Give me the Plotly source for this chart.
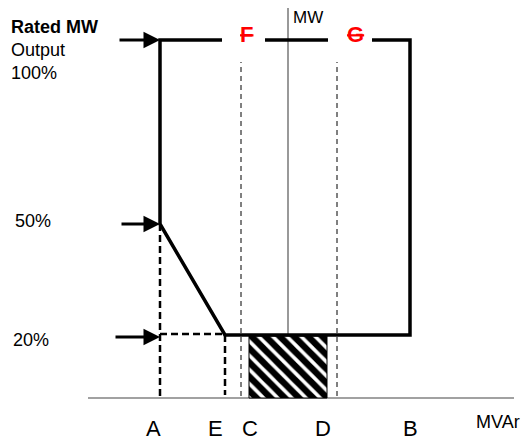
import plotly.graph_objects as go

# ---- diagram data (diagram units: x = MVAr position, y = MW height above MVAr axis) ----
x_labels = ["A", "E", "C", "D", "B"]
x_values = [160, 225, 241, 337, 410]
label_x = [153, 215, 250, 323, 410]
mw_labels = ["100%", "50%", "20%"]
mw_values = [358, 174, 63]
axis_x_range = [88, 514]
mw_axis_x = 288
mw_axis_top = 390
gap_F = [222, 265]
gap_G = [328, 372]
letter_x = [246, 355]
hatch_x = [249, 327]
dash_top = 336
arrow_tail_x = [118, 120, 114]
arrow_y = [358, 174, 61]

A, E, C, D, B = x_values
P100, P50, P20 = mw_values

fig = go.Figure()

# axes
fig.add_trace(go.Scatter(x=axis_x_range, y=[0, 0], mode="lines",
                         line=dict(color="#444", width=1.2)))
fig.add_trace(go.Scatter(x=[mw_axis_x, mw_axis_x], y=[0, mw_axis_top], mode="lines",
                         line=dict(color="#555", width=1.2)))

# hatched region
fig.add_trace(go.Scatter(x=[hatch_x[0], hatch_x[1], hatch_x[1], hatch_x[0], hatch_x[0]],
                         y=[0, 0, P20 - 1, P20 - 1, 0], mode="lines", fill="toself",
                         line=dict(color="black", width=1),
                         fillcolor="white",
                         fillpattern=dict(shape="\\", size=10, solidity=0.65,
                                          fgcolor="black", bgcolor="white",
                                          fgopacity=1, fillmode="replace")))

# thin dashed lines C and D
for xv in [C, D]:
    fig.add_trace(go.Scatter(x=[xv, xv], y=[2, dash_top], mode="lines",
                             line=dict(color="black", width=1, dash="5px,4px")))

# thick dashed lines
fig.add_trace(go.Scatter(x=[A, A, None, A, E, None, E, E],
                         y=[P50, 0, None, P20 + 1, P20 + 1, None, P20, 3],
                         mode="lines",
                         line=dict(color="black", width=2.5, dash="7px,4px")))

# capability boundary
fig.add_trace(go.Scatter(
    x=[gap_F[0], A, A, E, B, B, gap_G[1], None, gap_G[0], gap_F[1]],
    y=[P100, P100, P50, P20, P20, P100, P100, None, P100, P100],
    mode="lines", line=dict(color="black", width=3.5)))

annotations = []
# arrows
for tx, ty in zip(arrow_tail_x, arrow_y):
    annotations.append(dict(x=A, y=ty, ax=tx, ay=ty, xref="x", yref="y",
                            axref="x", ayref="y", showarrow=True, arrowhead=2,
                            arrowsize=1.1, arrowwidth=3, arrowcolor="black",
                            standoff=0, startstandoff=0, text=""))

font = dict(family="Liberation Sans, Arial, sans-serif", color="black")
# left labels
annotations.append(dict(x=9, y=371, text="<b>Rated MW</b>", showarrow=False,
                        xanchor="left", yanchor="middle", font=dict(size=18, **font)))
annotations.append(dict(x=9, y=348, text="Output", showarrow=False,
                        xanchor="left", yanchor="middle", font=dict(size=18, **font)))
annotations.append(dict(x=9, y=325, text=mw_labels[0], showarrow=False,
                        xanchor="left", yanchor="middle", font=dict(size=18, **font)))
annotations.append(dict(x=13, y=177, text=mw_labels[1], showarrow=False,
                        xanchor="left", yanchor="middle", font=dict(size=18, **font)))
annotations.append(dict(x=11, y=58, text=mw_labels[2], showarrow=False,
                        xanchor="left", yanchor="middle", font=dict(size=18, **font)))

# bottom labels
for lab, lx in zip(x_labels, label_x):
    annotations.append(dict(x=lx, y=-30, text=lab, showarrow=False,
                            xanchor="center", yanchor="middle", font=dict(size=22, **font)))
annotations.append(dict(x=474, y=-24, text="MVAr", showarrow=False,
                        xanchor="left", yanchor="middle", font=dict(size=18, **font)))
annotations.append(dict(x=291, y=381, text="MW", showarrow=False,
                        xanchor="left", yanchor="middle", font=dict(size=17, **font)))

# F and G
for lab, lx in zip(["F", "G"], letter_x):
    annotations.append(dict(x=lx, y=P100 + 6, text="<b><s>" + lab + "</s></b>",
                            showarrow=False, xanchor="center", yanchor="middle",
                            font=dict(size=22, family="Liberation Sans, Arial, sans-serif",
                                      color="#ff0000")))

fig.update_layout(
    width=530, height=443,
    margin=dict(l=0, r=0, t=0, b=0),
    paper_bgcolor="white", plot_bgcolor="white",
    showlegend=False,
    xaxis=dict(range=[0, 530], visible=False, fixedrange=True),
    yaxis=dict(range=[-45, 398], visible=False, fixedrange=True),
    annotations=annotations,
)

fig.write_html("out.html", config={"displayModeBar": False},
               post_script="document.body.style.margin='0';document.body.style.overflow='hidden';")
